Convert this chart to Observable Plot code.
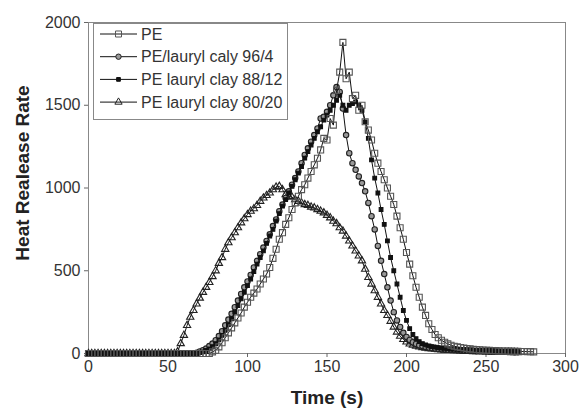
<!DOCTYPE html>
<html><head><meta charset="utf-8">
<script src="https://cdn.jsdelivr.net/npm/d3@7"></script>
<script src="https://cdn.jsdelivr.net/npm/@observablehq/plot@0.6"></script>
<style>body{margin:0;background:#fff}#chart{width:583px;height:416px}</style>
</head><body><div id="chart"></div>
<script>
// Time axis (s), sampled every 2 s
const time = [0,2,4,6,8,10,12,14,16,18,20,22,24,26,28,30,32,34,36,38,
40,42,44,46,48,50,52,54,56,58,60,62,64,66,68,70,72,74,76,78,
80,82,84,86,88,90,92,94,96,98,100,102,104,106,108,110,112,114,116,118,
120,122,124,126,128,130,132,134,136,138,140,142,144,146,148,150,152,154,156,158,
160,162,164,166,168,170,172,174,176,178,180,182,184,186,188,190,192,194,196,198,
200,202,204,206,208,210,212,214,216,218,220,222,224,226,228,230,232,234,236,238,
240,242,244,246,248,250,252,254,256,258,260,262,264,266,268,270,272,274,276,278,280];

const seriesNames = ["PE", "PE/lauryl caly 96/4", "PE lauryl clay 88/12", "PE lauryl clay 80/20"];

const pe = [0,0,0,0,0,0,0,0,0,0,
0,0,0,0,0,0,0,0,0,0,
0,0,0,0,0,0,0,0,0,0,
0,0,0,0,0,0,0,0,0,10,
20,40,65,95,125,155,185,215,245,280,
310,340,365,390,420,450,480,520,575,630,
690,730,780,820,870,910,950,990,1020,1060,
1100,1140,1180,1230,1300,1290,1420,1380,1590,1700,
1880,1660,1700,1540,1560,1470,1500,1400,1350,1290,
1210,1150,1100,1050,1000,950,900,830,760,690,
610,540,470,400,340,280,230,180,145,115,
95,80,68,58,50,44,40,36,33,30,
28,26,24,22,21,20,19,18,17,16,
15,15,14,14,13,13,12,12,11,11,
10];

const clay96 = [0,0,0,0,0,0,0,0,0,0,
0,0,0,0,0,0,0,0,0,0,
0,0,0,0,0,0,0,0,0,0,
0,0,0,0,5,12,20,30,45,60,
80,105,135,170,205,240,280,320,360,400,
435,475,520,560,600,640,680,720,770,810,
860,900,940,980,1020,1060,1100,1150,1200,1240,
1280,1320,1360,1420,1430,1460,1500,1560,1610,1580,
1480,1320,1210,1150,1110,1070,1030,980,910,830,
750,650,560,480,400,320,250,200,160,125,
100,82,68,58,50,45,40,36,33,30,
28,26,25,24,23,22,21,20,19,18,
17,16,15,15,14,14,13,13,12,12,
11,11,10,10,9,9];

const clay88 = [0,0,0,0,0,0,0,0,0,0,
0,0,0,0,0,0,0,0,0,0,
0,0,0,0,0,0,0,0,0,0,
0,0,0,0,0,5,10,18,28,42,
60,82,110,140,175,210,250,290,330,370,
410,450,495,540,580,620,665,710,750,800,
845,890,930,970,1010,1050,1090,1130,1180,1220,
1260,1300,1340,1370,1410,1440,1470,1500,1530,1560,
1500,1470,1500,1510,1520,1500,1470,1400,1300,1170,
1060,970,870,780,680,580,500,420,340,260,
200,150,115,90,72,60,52,46,42,38,
35,33,31,29,27,26,25,24,23,22,
21,20,19,18,17,16,15,15,14,14,
13,12,11,10,9,8];

const clay80 = [0,0,0,0,0,0,0,0,0,0,
0,0,0,0,0,0,0,0,0,0,
0,0,0,0,0,0,0,0,10,60,
110,170,220,260,300,335,370,400,430,465,
500,545,580,630,670,700,730,760,790,815,
840,860,875,895,920,940,955,970,990,1005,
1010,990,960,950,945,930,920,910,900,895,
885,880,870,860,850,835,820,800,785,760,
740,710,680,650,620,590,560,510,460,420,
380,340,300,260,230,195,160,130,105,85,
70,58,50,44,40,36,33,30,28,26,
24,22,21,20,19,18,17,16,15,14,
13,12,12,11,11,10,10,9,9,8,
8,7,7,6,6,6];

const xTicks = [0, 50, 100, 150, 200, 250, 300];
const yTicks = [0, 500, 1000, 1500, 2000];

const values = [pe, clay96, clay88, clay80];
const styles = [
  {symbol: "square", r: 3.4, fill: "none", stroke: "#555"},
  {symbol: "circle", r: 2.7, fill: "#999", stroke: "#222"},
  {symbol: "square", r: 2.1, fill: "#111", stroke: "#111"},
  {symbol: "triangle", r: 2.7, fill: "none", stroke: "#222"}
];
const data = values.map(vals => vals.map((v, i) => ({t: time[i], v})));

const drawOrder = [3, 1, 2, 0];
const seriesMarks = drawOrder.flatMap(k => [
  Plot.line(data[k], {x: "t", y: "v", stroke: "#111", strokeWidth: 1}),
  Plot.dot(data[k], {x: "t", y: "v", symbol: styles[k].symbol, r: styles[k].r,
    fill: styles[k].fill, stroke: styles[k].stroke, strokeWidth: 1.1})
]);

const chart = Plot.plot({
  width: 583, height: 416,
  marginLeft: 88, marginRight: 18, marginTop: 22, marginBottom: 63,
  style: {fontFamily: "'Liberation Sans', Arial, sans-serif", fontSize: "16px", color: "#333", background: "#fff"},
  x: {domain: [0, 300]},
  y: {domain: [0, 2000]},
  marks: [
    Plot.frame({stroke: "#888"}),
    Plot.axisX({ticks: xTicks, tickFormat: d => String(d), tickSize: 4, tickPadding: 3, label: null, stroke: "#666", fontSize: 16}),
    Plot.axisY({ticks: yTicks, tickFormat: d => String(d), tickSize: 4, tickPadding: 4, label: null, stroke: "#666", fontSize: 16}),
    ...seriesMarks,
    Plot.text(["Time (s)"], {frameAnchor: "bottom", dy: 50, text: d => d, fontWeight: "bold", fontSize: 19, fill: "#222"}),
    Plot.text(["Heat Realease Rate"], {frameAnchor: "left", textAnchor: "middle", dx: -66, dy: -15, rotate: -90, text: d => d, fontWeight: "bold", fontSize: 19, fill: "#222"})
  ]
});

document.getElementById("chart").appendChild(chart);

// Legend box (top-left inside plot frame)
const svg = d3.select(chart);
const lg = svg.append("g").attr("text-anchor", "start");
lg.append("rect").attr("x", 93.5).attr("y", 23.5).attr("width", 194).attr("height", 96)
  .attr("fill", "#fff").attr("stroke", "#888").attr("stroke-width", 1);
const symType = {square: d3.symbolSquare, circle: d3.symbolCircle, triangle: d3.symbolTriangle};
seriesNames.forEach((name, i) => {
  const y = 34 + 22.7 * i;
  const s = styles[i];
  lg.append("line").attr("x1", 100).attr("x2", 137).attr("y1", y).attr("y2", y)
    .attr("stroke", "#111").attr("stroke-width", 1);
  lg.append("path").attr("transform", `translate(118.5,${y})`)
    .attr("d", d3.symbol(symType[s.symbol], Math.PI * s.r * s.r)())
    .attr("fill", s.fill).attr("stroke", s.stroke);
  lg.append("text").attr("x", 141).attr("y", y).attr("dy", "0.36em")
    .attr("text-anchor", "start")
    .attr("font-size", 16).attr("fill", "#333").text(name);
});
</script>
</body></html>
